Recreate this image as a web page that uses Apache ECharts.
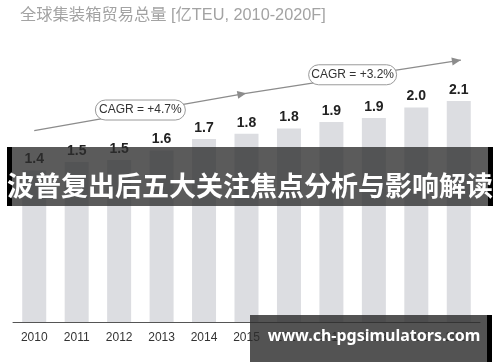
<!DOCTYPE html>
<html>
<head>
<meta charset="utf-8">
<script src="https://cdn.jsdelivr.net/npm/echarts@6/dist/echarts.min.js"></script>
<style>html,body{margin:0;padding:0;background:#fff;}#c{width:500px;height:362px;}</style>
</head>
<body>
<div id="c"></div>
<script>
const titleText = '全球集装箱贸易总量 [亿TEU, 2010-2020F]';
const years = ['2010','2011','2012','2013','2014','2015','2016','2017','2018','2019','2020'];
const volumes = [1.44, 1.52, 1.54, 1.63, 1.74, 1.79, 1.84, 1.90, 1.94, 2.04, 2.10];
const cagrLabels = ['CAGR = +4.7%', 'CAGR = +3.2%'];
const bannerText = '波普复出后五大关注焦点分析与影响解读';
const watermarkText = 'www.ch-pgsimulators.com';

const FONT = 'Liberation Sans, Arial, Noto Sans CJK SC, sans-serif';
const chart = echarts.init(document.getElementById('c'), null, {renderer: 'canvas'});

chart.setOption({
  animation: false,
  backgroundColor: '#fff',
  title: {
    text: titleText, left: 15, top: 2,
    textStyle: {fontSize: 16.3, fontWeight: 'normal', color: '#a3a3a3', fontFamily: FONT}
  },
  grid: {left: 13, right: 20, top: 59, bottom: 40},
  xAxis: {
    type: 'category', data: years,
    axisLine: {lineStyle: {color: '#555', width: 1}},
    axisTick: {show: false},
    axisLabel: {fontSize: 12, color: '#333', margin: 10, fontFamily: FONT}
  },
  yAxis: {type: 'value', min: 0, max: 2.5, show: false, splitLine: {show: false}},
  series: [{
    type: 'bar', data: volumes, barWidth: 24,
    itemStyle: {color: '#dcdde1'},
    label: {
      show: true, position: 'top', distance: 4,
      formatter: p => p.value.toFixed(1),
      fontSize: 14, fontWeight: 'bold', color: '#222', fontFamily: FONT
    }
  }]
});

function toPx(idx, val) {
  const a = chart.convertToPixel({gridIndex: 0}, [0, val]);
  const b = chart.convertToPixel({gridIndex: 0}, [10, val]);
  return [a[0] + (b[0] - a[0]) * idx / 10, a[1]];
}
function arrowHead(from, to, len, half) {
  const dx = to[0] - from[0], dy = to[1] - from[1];
  const d = Math.hypot(dx, dy), ux = dx / d, uy = dy / d;
  const bx = to[0] - ux * len, by = to[1] - uy * len;
  return [[to[0], to[1]], [bx - uy * half, by + ux * half], [bx + uy * half, by - ux * half]];
}
const P0 = toPx(0, 1.82), P1 = toPx(4.95, 2.17), P2 = toPx(10.05, 2.49);
const B1 = toPx(2.5, 2.015), B2 = toPx(7.5, 2.35);
const lineCol = '#8c8c8c';
function box(c, w, txt) {
  return [
    {type: 'rect', z: 50, shape: {x: c[0] - w / 2, y: c[1] - 10, width: w, height: 20, r: 10},
     style: {fill: '#fff', stroke: '#9a9a9a', lineWidth: 1}},
    {type: 'text', z: 51, x: c[0], y: c[1],
     style: {text: txt, fill: '#333', font: '12px ' + FONT, align: 'center', verticalAlign: 'middle'}}
  ];
}
const graphics = [
  {type: 'polyline', z: 40, shape: {points: [P0, P1, P2]}, style: {stroke: lineCol, lineWidth: 1.3, fill: null}},
  {type: 'polygon', z: 41, shape: {points: arrowHead(P0, [P1[0] + 2, P1[1] - 0.35], 9, 4)}, style: {fill: lineCol}},
  {type: 'polygon', z: 41, shape: {points: arrowHead(P1, P2, 9, 4)}, style: {fill: lineCol}},
  ...box(B1, 90, cagrLabels[0]),
  ...box(B2, 88, cagrLabels[1]),
  // overlay banner
  {type: 'rect', z: 100, shape: {x: 7, y: 147, width: 486, height: 59}, style: {fill: 'rgba(45,45,45,0.78)'}},
  {type: 'rect', z: 101, shape: {x: 7, y: 147, width: 5, height: 59}, style: {fill: '#000'}},
  {type: 'rect', z: 101, shape: {x: 488, y: 147, width: 5, height: 59}, style: {fill: '#000'}},
  {type: 'text', z: 102, x: 250, y: 186,
   style: {text: bannerText, fill: '#fff', font: 'bold 27px Noto Sans CJK SC, sans-serif', align: 'center', verticalAlign: 'middle'}},
  // watermark
  {type: 'rect', z: 100, shape: {x: 250, y: 315, width: 237, height: 47}, style: {fill: 'rgba(45,45,45,0.82)'}},
  {type: 'rect', z: 101, shape: {x: 487, y: 315, width: 5, height: 47}, style: {fill: '#000'}},
  {type: 'text', z: 102, x: 374, y: 336,
   style: {text: watermarkText, fill: '#fff', font: 'bold 16px Noto Sans, sans-serif', align: 'center', verticalAlign: 'middle'}}
];
chart.setOption({graphic: graphics});
</script>
</body>
</html>
